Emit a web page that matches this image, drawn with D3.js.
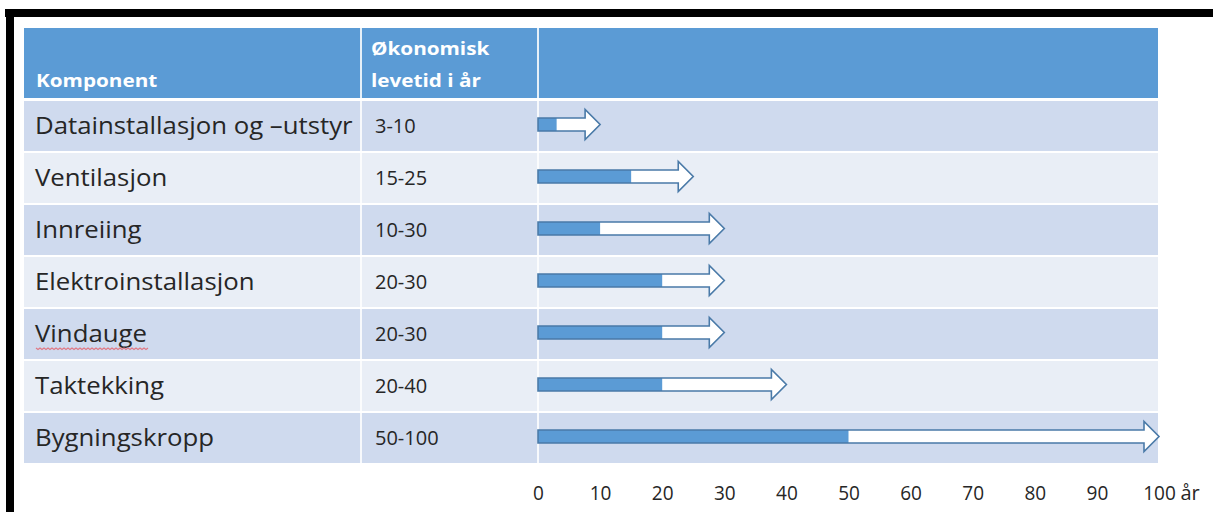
<!DOCTYPE html>
<html>
<head>
<meta charset="utf-8">
<script src="https://cdn.jsdelivr.net/npm/d3@7"></script>
<style>
  html, body { margin: 0; padding: 0; background: #fff; }
  svg { display: block; }
</style>
</head>
<body>
<svg id="chart" width="1213" height="512"></svg>
<script>
// Components and their economic lifetime (years): lower and upper bound
const components = [
  "Datainstallasjon og \u2013utstyr",
  "Ventilasjon",
  "Innreiing",
  "Elektroinstallasjon",
  "Vindauge",
  "Taktekking",
  "Bygningskropp"
];
const lifeMin = [3, 15, 10, 20, 20, 20, 50];
const lifeMax = [10, 25, 30, 30, 30, 40, 100];
const headerLabels = ["Komponent", "\u00d8konomisk", "levetid i \u00e5r"];
const tickValues = [0, 10, 20, 30, 40, 50, 60, 70, 80, 90, 100];
const unitLabel = "\u00e5r";

const rows = components.map((c, i) => ({ name: c, min: lifeMin[i], max: lifeMax[i] }));

const svg = d3.select("#chart");
const font = "'Open Sans', 'Noto Sans', sans-serif";
const textColor = "#262626";

// Adjust the horizontal extent of each text run by a factor
function widen(sel, k) {
  sel.each(function () {
    const len = this.getComputedTextLength();
    d3.select(this).attr("textLength", len * k).attr("lengthAdjust", "spacingAndGlyphs");
  });
}

// Frame around the slide
svg.append("rect").attr("x", 5).attr("y", 9).attr("width", 1208).attr("height", 8).attr("fill", "#000");
svg.append("rect").attr("x", 6).attr("y", 9).attr("width", 8).attr("height", 503).attr("fill", "#000");

// Table layout
const colX = [24, 361, 538, 1158];
const headerTop = 28, headerBottom = 98;

const y = d3.scaleBand()
  .domain(components)
  .range([100, 464])
  .paddingInner(0);

const x = d3.scaleLinear().domain([0, 100]).range([538, 1159]);

// Header band
svg.append("rect")
  .attr("x", colX[0]).attr("y", headerTop)
  .attr("width", colX[3] - colX[0]).attr("height", headerBottom - headerTop)
  .attr("fill", "#5B9BD5");

// Body rows
svg.append("g").selectAll("rect")
  .data(rows)
  .join("rect")
  .attr("x", colX[0])
  .attr("y", d => y(d.name) + 1)
  .attr("width", colX[3] - colX[0])
  .attr("height", y.bandwidth() - 2)
  .attr("fill", (d, i) => i % 2 === 0 ? "#CFDAEE" : "#E9EEF6");

// Column separators
svg.append("g").selectAll("line")
  .data([colX[1], colX[2]])
  .join("line")
  .attr("x1", d => d).attr("x2", d => d)
  .attr("y1", headerTop).attr("y2", 464)
  .attr("stroke", "#fff").attr("stroke-width", 2).attr("opacity", 0.85);

// Header text
const header = svg.append("g")
  .attr("font-family", font).attr("font-weight", 700).attr("font-size", 18)
  .attr("fill", "#fff");
header.append("text").attr("x", 36).attr("y", 87).text(headerLabels[0]);
header.append("text").attr("x", 371).attr("y", 55).text(headerLabels[1]);
header.append("text").attr("x", 371).attr("y", 87).text(headerLabels[2]);
widen(header.selectAll("text"), 1.15);

// Row labels
const cy = d => y(d.name) + y.bandwidth() / 2;
const names = svg.append("g").selectAll("text")
  .data(rows)
  .join("text")
  .attr("x", 35)
  .attr("y", d => cy(d) + 8)
  .attr("font-family", font).attr("font-size", 23)
  .attr("fill", textColor)
  .text(d => d.name);
widen(names, 1.12);

// Spell-check squiggle under "Vindauge"
names.filter(d => d.name === "Vindauge").each(function (d) {
  const w = +d3.select(this).attr("textLength");
  const baseY = cy(d) + 14;
  const pts = [];
  for (let px = 36; px <= 36 + w; px += 2) pts.push([px, baseY + ((px / 2) % 2 === 0 ? 0 : 1.5)]);
  svg.append("path")
    .attr("d", d3.line()(pts))
    .attr("fill", "none").attr("stroke", "#E07A86").attr("stroke-width", 1.2);
});

// Lifetime ranges
const ranges = svg.append("g").selectAll("text")
  .data(rows)
  .join("text")
  .attr("x", 375)
  .attr("y", d => cy(d) + 7)
  .attr("font-family", font).attr("font-size", 20)
  .attr("fill", textColor)
  .text(d => `${d.min}-${d.max}`);
widen(ranges, 1.0);

// Arrows: blue part to the lower bound, white shaft on to the upper bound
const shaftH = 13, headH = 30, headL = 15;
const arrows = svg.append("g");
rows.forEach(d => {
  const c = cy(d) - 1.5;
  const x0 = x(0), x1 = x(d.min), x2 = x(d.max);
  const xb = x2 - headL;
  const outline = [
    [x0, c - shaftH / 2], [xb, c - shaftH / 2], [xb, c - headH / 2],
    [x2, c], [xb, c + headH / 2], [xb, c + shaftH / 2], [x0, c + shaftH / 2]
  ];
  arrows.append("path")
    .attr("d", d3.line()(outline) + "Z")
    .attr("fill", "#fff");
  arrows.append("rect")
    .attr("x", x0).attr("y", c - shaftH / 2)
    .attr("width", x1 - x0).attr("height", shaftH)
    .attr("fill", "#5B9BD5");
  arrows.append("path")
    .attr("d", d3.line()(outline) + "Z")
    .attr("fill", "none")
    .attr("stroke", "#4A7AA8").attr("stroke-width", 1.6)
    .attr("stroke-linejoin", "miter");
});

// Year axis
const axis = d3.axisBottom(x)
  .tickValues(tickValues)
  .tickSize(0)
  .tickPadding(0)
  .tickFormat(d3.format("d"));
const ax = svg.append("g").attr("transform", "translate(0,484)").call(axis);
ax.select(".domain").remove();
ax.selectAll("text")
  .attr("font-family", font).attr("font-size", 20)
  .attr("fill", textColor)
  .attr("dy", "0.8em");
widen(ax.selectAll("text"), 0.95);
ax.selectAll(".tick").filter(d => d === 100).append("text")
  .attr("x", 21).attr("y", 0).attr("dy", "0.8em")
  .attr("text-anchor", "start")
  .attr("font-family", font).attr("font-size", 20)
  .attr("fill", textColor)
  .text(unitLabel)
  .call(widen, 1.0);
</script>
</body>
</html>
